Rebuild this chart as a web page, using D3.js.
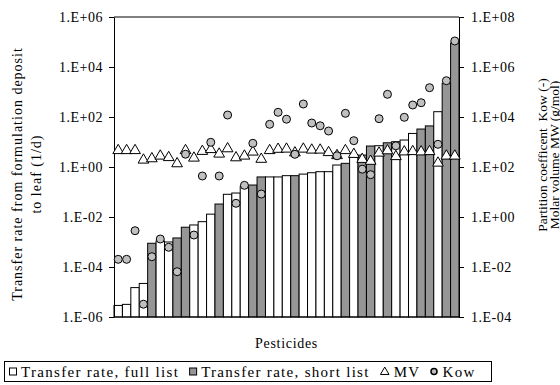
<!DOCTYPE html>
<html>
<head>
<meta charset="utf-8">
<script src="https://cdn.jsdelivr.net/npm/d3@7"></script>
<style>
  html, body { margin: 0; padding: 0; background: #fff; }
  svg { display: block; font-family: "Liberation Serif", "Times New Roman", serif; }
</style>
</head>
<body>
<svg id="chart" width="560" height="385"></svg>
<script>
// Pesticides, sorted by transfer rate
const pesticides = ["1","2","3","4","5","6","7","8","9","10","11","12","13","14","15","16","17","18","19","20",
  "21","22","23","24","25","26","27","28","29","30","31","32","33","34","35","36","37","38","39","40","41"];

// Which list each pesticide belongs to
const listType = ["full","full","full","full","short","full","full","short","short","full",
  "full","full","short","full","full","full","short","short","full","full",
  "full","short","full","full","full","full","full","short","full","short",
  "short","full","short","full","full","full","short","short","full","short","short"];

// Transfer rate from formulation deposit to leaf (1/d)
const transferRate = [2.9e-6, 3.2e-6, 1.5e-5, 2.2e-5, 8.9e-4, 1.1e-3, 1.0e-3, 1.45e-3, 3.9e-3, 4.8e-3,
  6.5e-3, 1.3e-2, 3.3e-2, 8.1e-2, 9.1e-2, 0.166, 0.19, 0.40, 0.40, 0.40,
  0.45, 0.45, 0.52, 0.59, 0.65, 0.65, 1.2, 1.4, 2.5, 3.0,
  6.9, 7.1, 9.3, 10.3, 12, 22, 33, 44, 163, 2240, 91000];

// Molar volume MW (g/mol)
const molarVolume = [501, 501, 501, 209, 236, 302, 263, 149, 501, 251,
  466, 550, 363, 592, 258, 302, 437, 225, 501, 565,
  575, 406, 575, 525, 525, 417, 316, 501, 353, 223,
  187, 398, 492, 288, 445, 457, 445, 457, 158, 302, 302];

// Octanol-water partition coefficient Kow (-)
const kow = [0.0203, 0.0203, 0.283, 3.25e-4, 0.0258, 0.132, 0.0614, 6.49e-3, 325, 0.19,
  43.7, 973, 43.7, 12000, 3.53, 18.5, 887, 8.3, 5100, 15400,
  8170, 322, 33100, 5750, 4450, 2750, 281, 14060, 1130, 81.7,
  49.2, 8550, 80900, 705, 9730, 30200, 37300, 148600, 809, 283000, 1.1e7];

const leftTicks = [1e-6, 1e-4, 1e-2, 1, 1e2, 1e4, 1e6];
const leftTickLabels = ["1.E-06", "1.E-04", "1.E-02", "1.E+00", "1.E+02", "1.E+04", "1.E+06"];
const rightTicks = [1e-4, 1e-2, 1, 1e2, 1e4, 1e6, 1e8];
const rightTickLabels = ["1.E-04", "1.E-02", "1.E+00", "1.E+02", "1.E+04", "1.E+06", "1.E+08"];

const legendItems = [
  { label: "Transfer rate, full list", kind: "full" },
  { label: "Transfer rate, short list", kind: "short" },
  { label: "MV", kind: "tri" },
  { label: "Kow", kind: "circ" }
];

const plot = { left: 114, right: 459, top: 17, bottom: 317 };
const barFill = { full: "#ffffff", short: "#969696" };
const circleFill = "#c0c0c0";

const svg = d3.select("#chart");

const x = d3.scaleBand().domain(pesticides).range([plot.left, plot.right]).padding(0);
const yL = d3.scaleLog().domain([1e-6, 1e6]).range([plot.bottom, plot.top]);
const yR = d3.scaleLog().domain([1e-4, 1e8]).range([plot.bottom, plot.top]);

// Bars
svg.append("g").selectAll("rect")
  .data(pesticides)
  .join("rect")
  .attr("x", d => x(d))
  .attr("width", x.bandwidth())
  .attr("y", (d, i) => yL(transferRate[i]))
  .attr("height", (d, i) => plot.bottom - yL(transferRate[i]))
  .attr("fill", (d, i) => barFill[listType[i]])
  .attr("stroke", "#000")
  .attr("stroke-width", 1);

// Frame lines (top and bottom)
svg.append("line").attr("x1", plot.left).attr("x2", plot.right)
  .attr("y1", plot.top).attr("y2", plot.top).attr("stroke", "#000");
svg.append("line").attr("x1", plot.left).attr("x2", plot.right)
  .attr("y1", plot.bottom).attr("y2", plot.bottom).attr("stroke", "#000");

// Axes
function styleAxis(g) {
  g.attr("font-family", null).attr("font-size", null);
  g.select(".domain").attr("stroke", "#000").attr("stroke-width", 1);
  g.selectAll(".tick line").attr("stroke", "#000");
  g.selectAll(".tick text")
    .attr("fill", "#000")
    .style("font-size", "14px")
    .style("letter-spacing", "0.5px");
}

svg.append("g")
  .attr("transform", `translate(${plot.left},0)`)
  .call(d3.axisLeft(yL).tickValues(leftTicks)
    .tickFormat((d, i) => leftTickLabels[i]).tickSize(5).tickSizeOuter(0).tickPadding(6))
  .call(styleAxis);

svg.append("g")
  .attr("transform", `translate(${plot.right},0)`)
  .call(d3.axisRight(yR).tickValues(rightTicks)
    .tickFormat((d, i) => rightTickLabels[i]).tickSize(5).tickSizeOuter(0).tickPadding(7))
  .call(styleAxis);

// Triangle and circle markers
const tri = d3.symbol().type(d3.symbolTriangle).size(50);
const cx = d => x(d) + x.bandwidth() / 2;

svg.append("g").selectAll("path")
  .data(pesticides)
  .join("path")
  .attr("d", tri)
  .attr("transform", (d, i) => `translate(${cx(d)},${yR(molarVolume[i]) + 1})`)
  .attr("fill", "#fff")
  .attr("stroke", "#000")
  .attr("stroke-width", 1);

svg.append("g").selectAll("circle")
  .data(pesticides)
  .join("circle")
  .attr("cx", cx)
  .attr("cy", (d, i) => yR(kow[i]))
  .attr("r", 4)
  .attr("fill", circleFill)
  .attr("stroke", "#000")
  .attr("stroke-width", 1);

// Axis titles
const titleStyle = t => t.style("font-size", "14px").style("letter-spacing", "1px").attr("fill", "#000");

svg.append("text").attr("text-anchor", "middle")
  .attr("transform", "translate(21.5,174) rotate(-90)")
  .text("Transfer rate from formulation deposit").call(titleStyle);
svg.append("text").attr("text-anchor", "middle")
  .attr("transform", "translate(40.5,174) rotate(-90)")
  .text("to leaf (1/d)").call(titleStyle);

svg.append("text").attr("text-anchor", "middle")
  .attr("transform", "translate(546.5,155) rotate(-90)")
  .text("Partition coefficent  Kow (-)")
  .style("font-size", "13.5px").style("white-space", "pre").attr("fill", "#000");
svg.append("text").attr("text-anchor", "middle")
  .attr("transform", "translate(558.5,155) rotate(-90)")
  .text("Molar volume MW (g/mol)")
  .style("font-size", "13.5px").attr("fill", "#000");

svg.append("text").attr("text-anchor", "middle")
  .attr("x", (plot.left + plot.right) / 2).attr("y", 348)
  .text("Pesticides")
  .style("font-size", "14px").style("letter-spacing", "0.7px").attr("fill", "#000");

// Legend
const legend = svg.append("g");
legend.append("rect")
  .attr("x", 4.5).attr("y", 361.5).attr("width", 487).attr("height", 20)
  .attr("fill", "#fff").attr("stroke", "#000");

let lx = 9;
const ly = 371.5;
legendItems.forEach(item => {
  if (item.kind === "full" || item.kind === "short") {
    legend.append("rect").attr("x", lx + 0.5).attr("y", ly - 3.5).attr("width", 7).attr("height", 7)
      .attr("fill", barFill[item.kind]).attr("stroke", "#000");
    lx += 12;
  } else if (item.kind === "tri") {
    legend.append("path").attr("d", d3.symbol().type(d3.symbolTriangle).size(32)())
      .attr("transform", `translate(${lx + 5},${ly + 0.5})`)
      .attr("fill", "none").attr("stroke", "#000");
    lx += 14;
  } else {
    legend.append("circle").attr("cx", lx + 3.5).attr("cy", ly).attr("r", 3)
      .attr("fill", circleFill).attr("stroke", "#000").attr("stroke-width", 1.5);
    lx += 12;
  }
  const t = legend.append("text").attr("x", lx).attr("y", ly + 5)
    .style("font-size", "15px").style("letter-spacing", "1.3px").attr("fill", "#000")
    .text(item.label);
  lx += t.node().getComputedTextLength() + 10;
});
</script>
</body>
</html>
